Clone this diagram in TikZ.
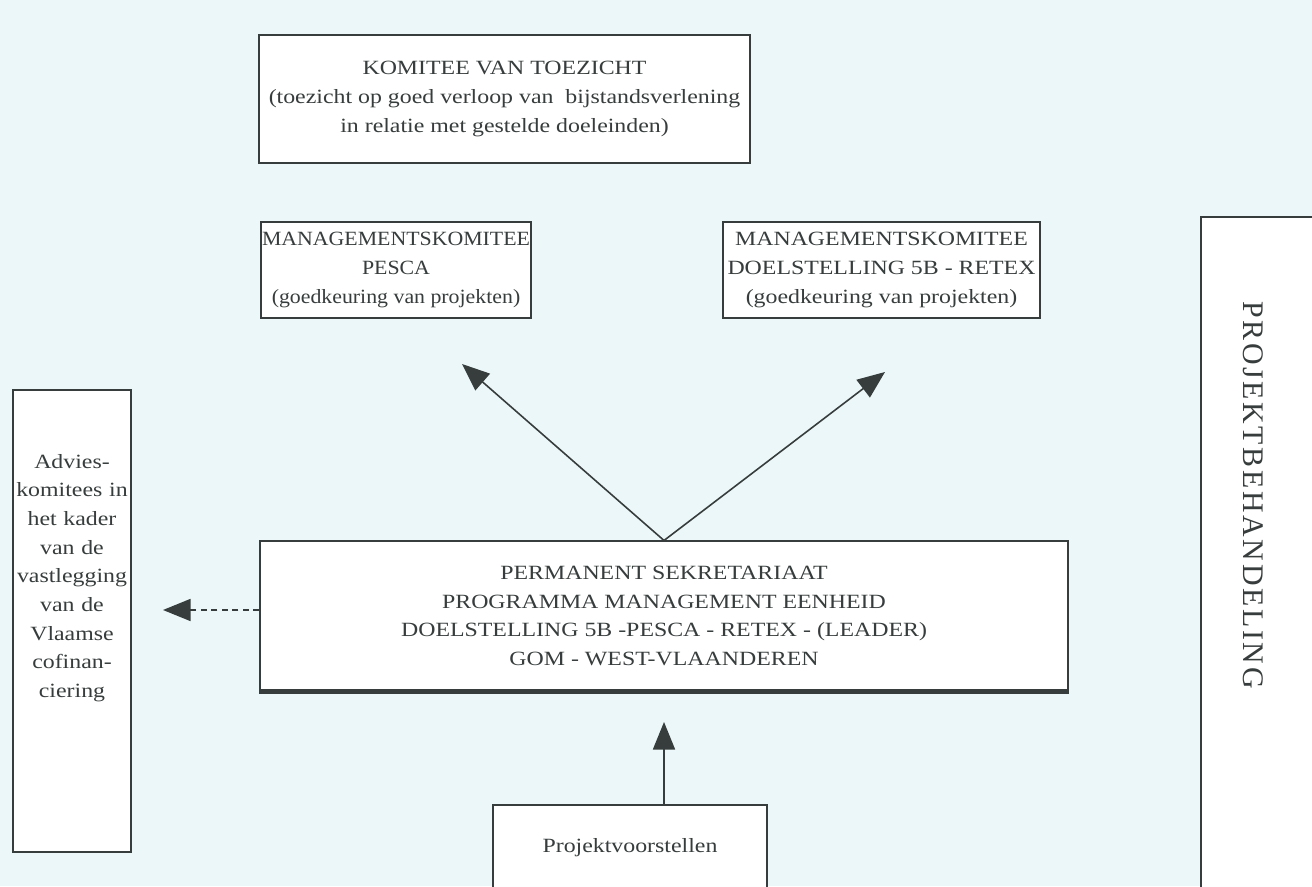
\documentclass[tikz,border=0pt]{standalone}
\usepackage{fontspec}
\setmainfont{Liberation Serif}[FakeStretch=1.18]
\newfontfamily\narrowfont{Liberation Serif}[FakeStretch=1.08]
\newfontfamily\spacedfont{Liberation Serif}[LetterSpace=9]
\usetikzlibrary{arrows.meta}
\definecolor{bgcyan}{RGB}{235,247,248}
\definecolor{ink}{RGB}{55,60,60}

\begin{document}
\begin{tikzpicture}
    [box/.style={rectangle,draw=ink,fill=white,line width=0.6pt,text=ink,align=center,inner sep=0pt},
    flow/.style={->,>={Triangle[length=0.55cm,width=0.44cm]},draw=ink,line width=0.9pt},
    font=\fontsize{11.5}{16.3}\selectfont]

    \fill[bgcyan] (0,0) rectangle (26.24,17.72);
    \useasboundingbox (0,0) rectangle (26.24,17.72);

    \node[box,minimum width=9.82cm,minimum height=2.56cm] (toezicht) at (10.09,15.74)
        {KOMITEE VAN TOEZICHT\\(toezicht op goed verloop van\ \ bijstandsverlening\\in relatie met gestelde doeleinden)};
    \node[box,minimum width=5.4cm,minimum height=1.92cm,font=\narrowfont\fontsize{11.5}{16.3}\selectfont] (pesca) at (7.92,12.32)
        {MANAGEMENTSKOMITEE\\PESCA\\(goedkeuring van projekten)};
    \node[box,minimum width=6.34cm,minimum height=1.92cm] (retex) at (17.63,12.32)
        {MANAGEMENTSKOMITEE\\DOELSTELLING 5B - RETEX\\(goedkeuring van projekten)};
    \node[box,minimum width=16.16cm,minimum height=3.0cm] (sekr) at (13.28,5.4)
        {PERMANENT SEKRETARIAAT\\PROGRAMMA MANAGEMENT EENHEID\\DOELSTELLING 5B -PESCA - RETEX - (LEADER)\\GOM - WEST-VLAANDEREN};
    \draw[ink,line width=2.4pt] (sekr.south west) -- (sekr.south east);

    \node[box,minimum width=2.36cm,minimum height=9.24cm] (advies) at (1.44,5.3) {};
    \node[text=ink,align=center,text width=2.3cm,inner sep=0pt] (adviestxt) at (1.44,6.16)
        {Advies-\\komitees in\\het kader\\van de\\vastlegging\\van de\\Vlaamse\\cofinan-\\ciering};

    \node[box,minimum width=5.48cm,minimum height=1.7cm] (projekt) at (12.6,0.77) {Projektvoorstellen};

    \node[box,minimum width=2.58cm,minimum height=13.66cm] (behandel) at (25.31,6.55) {};
    \node[text=ink,rotate=-90,font=\spacedfont\fontsize{17}{19}\selectfont] (behandeltxt) at (25.06,7.82)
        {PROJEKTBEHANDELING};

    \coordinate (tipL) at (9.24,10.44);
    \coordinate (tipR) at (17.7,10.28);
    \coordinate (tipU) at (13.28,3.28);
    \coordinate (tipA) at (3.26,5.52);

    \draw[flow] (sekr.north) -- (tipL);
    \draw[flow] (sekr.north) -- (tipR);
    \draw[flow] ([xshift=0.68cm]projekt.north) -- (tipU);
    \draw[flow,line width=0.8pt,dash pattern=on 3.5pt off 2.5pt] (sekr.west |- tipA) -- (tipA);
\end{tikzpicture}
\end{document}
